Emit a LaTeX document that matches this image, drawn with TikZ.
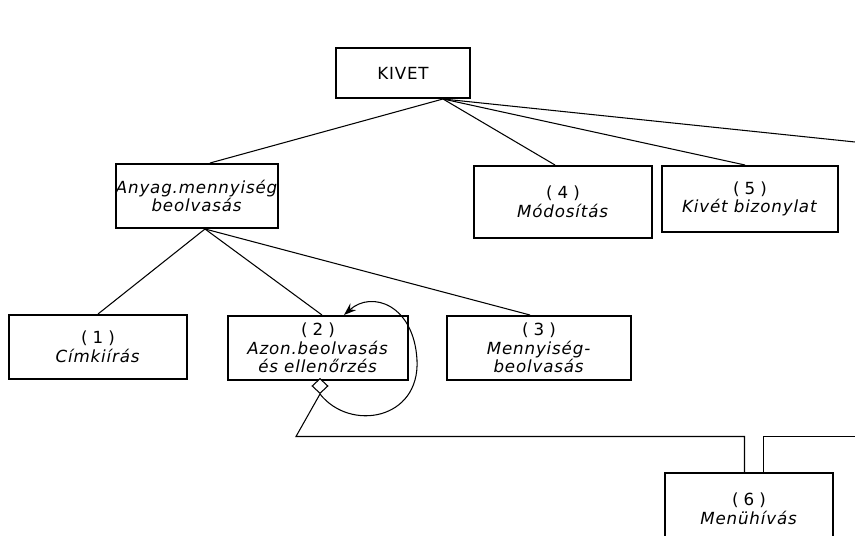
\documentclass[tikz,border=0pt]{standalone}
\usepackage{fontspec}
\setmainfont{DejaVu Sans}[LetterSpace=5]
\usetikzlibrary{calc,shapes.geometric,arrows.meta}

\newcommand{\nr}[1]{{\addfontfeature{LetterSpace=30}(#1)}}

\begin{document}
\begin{tikzpicture}[x=0.02cm, y=-0.02cm, line width=0.6pt,
                    every node/.style={font=\fontsize{9.5}{10.5}\selectfont, align=center},
                    box/.style={draw, line width=0.04cm, inner sep=0pt}]
                    \useasboundingbox (0,0) rectangle (855,536);

                    \node[box, minimum width=2.68cm, minimum height=1.00cm] (kivet) at (403,73) {KIVET};
                    \node[box, minimum width=3.16cm, minimum height=1.28cm] (anyag) at (197,196) {\textit{Anyag.mennyiség}\\\textit{beolvasás}};
                    \node[box, minimum width=3.56cm, minimum height=1.44cm] (modos) at (563,202) {\nr{4}\\\textit{Módosítás}};
                    \node[box, minimum width=3.52cm, minimum height=1.32cm] (bizony) at (750,199) {\nr{5}\\\textit{Kivét bizonylat}};

                    \node[box, minimum width=3.56cm, minimum height=1.28cm] (cimke) at (98,347) {\nr{1}\\\textit{Címkiírás}};
                    \node[box, minimum width=3.60cm, minimum height=1.28cm] (azon) at (318,348) {\nr{2}\\\textit{Azon.beolvasás}\\\textit{és ellenőrzés}};
                    \node[box, minimum width=3.68cm, minimum height=1.28cm] (menny) at (539,348) {\nr{3}\\\textit{Mennyiség-}\\\textit{beolvasás}};

                    \node[box, minimum width=3.36cm, minimum height=1.44cm] (menu) at (749,509) {\nr{6}\\\textit{Menühívás}};

                    \node[draw, diamond, inner sep=0pt, minimum width=0.32cm, minimum height=0.30cm, fill=white] (sel) at (320,386) {};

                    \coordinate (kout) at (855,142);
                    \coordinate (turn) at (296,436.5);
                    \coordinate (rout) at (855,436.5);

                    \draw ($(kivet.south)+(40,0)$) -- ($(anyag.north)+(13,0)$);
                    \draw ($(kivet.south)+(40,0)$) -- ($(modos.north)+(-8,0)$);
                    \draw ($(kivet.south)+(40,0)$) -- ($(bizony.north)+(-5,0)$);
                    \draw ($(kivet.south)+(40,0)$) -- (kout);

                    \draw ($(anyag.south)+(8,0)$) -- (cimke.north);
                    \draw ($(anyag.south)+(8,0)$) -- ($(azon.north)+(4,0)$);
                    \draw ($(anyag.south)+(8,0)$) -- ($(menny.north)+(-9,0)$);

                    \draw[-{Stealth[length=7pt,width=5pt]}] (sel.south) .. controls (350,432) and (420,420) .. (417,360)
                          .. controls (414,305) and (372,290) .. ($(azon.north)+(26,0)$);

                    \draw (sel.south) -- (turn) -| ($(menu.north)+(-4.5,0)$);
                    \draw (rout) -| ($(menu.north)+(14.5,0)$);
                \end{tikzpicture}
\end{document}
